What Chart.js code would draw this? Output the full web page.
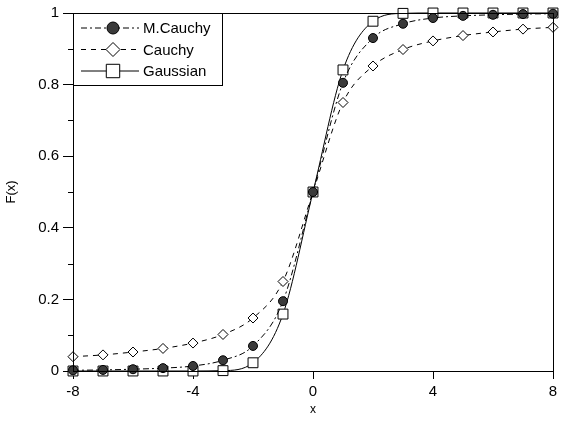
<!DOCTYPE html>
<html lang="en">
<head>
  <meta charset="UTF-8">
  <title>F(x)</title>
  <style>
    body { margin: 0; background: #fff; }
    #wrap { width: 565px; height: 421px; }
  </style>
</head>
<body>
  <div id="wrap"><canvas id="cdfChart"></canvas></div>

  <script src="https://cdn.jsdelivr.net/npm/chart.js@4.4.0/dist/chart.umd.min.js"></script>
  <script>
    // values, one marker per integer x
    const xs = [-8, -7, -6, -5, -4, -3, -2, -1, 0, 1, 2, 3, 4, 5, 6, 7, 8];
    const mCauchy = [0.002, 0.003, 0.005, 0.008, 0.014, 0.03, 0.07, 0.195, 0.5, 0.805, 0.93, 0.97, 0.986, 0.992, 0.995, 0.997, 0.998];
    const cauchy = [0.04, 0.045, 0.053, 0.063, 0.078, 0.102, 0.148, 0.25, 0.5, 0.75, 0.852, 0.898, 0.922, 0.937, 0.947, 0.955, 0.96];
    const gaussian = [0, 0, 0, 0, 0, 0.001, 0.023, 0.159, 0.5, 0.841, 0.977, 0.999, 1, 1, 1, 1, 1];
    const yMinorTicks = [0.1, 0.3, 0.5, 0.7, 0.9];

    const FONT = "'Liberation Sans', Arial, sans-serif";
    const toPoints = arr => xs.map((x, i) => ({ x: x, y: arr[i] }));

    // frame, minor ticks and the boxed legend in the top-left corner
    const extras = {
      id: 'extras',
      afterDraw(chart) {
        const { ctx, chartArea: a, scales } = chart;
        ctx.save();
        ctx.strokeStyle = '#000';
        ctx.lineWidth = 1;
        ctx.strokeRect(a.left + 0.5, a.top + 0.5, a.right - a.left, a.bottom - a.top);

        ctx.beginPath();
        yMinorTicks.forEach(v => {
          const py = Math.round(scales.y.getPixelForValue(v)) + 0.5;
          ctx.moveTo(a.left - 5, py);
          ctx.lineTo(a.left, py);
        });
        ctx.stroke();

        // legend
        const bx = a.left, by = a.top, bw = 149, bh = 72;
        ctx.fillStyle = '#fff';
        ctx.fillRect(bx + 1, by + 1, bw - 1, bh - 1);
        ctx.strokeRect(bx + 0.5, by + 0.5, bw, bh);
        chart.data.datasets.forEach((ds, i) => {
          const ly = by + 15 + i * 21.5;
          ctx.setLineDash(ds.borderDash || []);
          ctx.beginPath();
          ctx.moveTo(bx + 8, ly);
          ctx.lineTo(bx + 66, ly);
          ctx.stroke();
          ctx.setLineDash([]);
          ctx.fillStyle = ds.pointBackgroundColor;
          ctx.strokeStyle = '#000';
          ctx.lineWidth = 1;
          Chart.helpers.drawPoint(ctx, {
            pointStyle: ds.pointStyle,
            radius: ds.legendRadius,
            rotation: 0,
            borderWidth: 1
          }, bx + 40, ly);
          ctx.fillStyle = '#000';
          ctx.font = '15px ' + FONT;
          ctx.textBaseline = 'middle';
          ctx.fillText(ds.label, bx + 70, ly + 1);
        });
        ctx.restore();
      }
    };

    new Chart(document.getElementById('cdfChart'), {
      type: 'line',
      data: {
        datasets: [
          {
            label: 'M.Cauchy',
            data: toPoints(mCauchy),
            borderColor: '#000',
            borderWidth: 1,
            borderDash: [6, 3, 2, 3],
            pointStyle: 'circle',
            pointRadius: 4.5,
            legendRadius: 6,
            pointBackgroundColor: '#3a3a3a',
            pointBorderColor: '#000',
            cubicInterpolationMode: 'monotone',
            clip: false
          },
          {
            label: 'Cauchy',
            data: toPoints(cauchy),
            borderColor: '#000',
            borderWidth: 1,
            borderDash: [5, 5],
            pointStyle: 'rectRot',
            pointRadius: 5,
            legendRadius: 7,
            pointBackgroundColor: '#fff',
            pointBorderColor: '#000',
            cubicInterpolationMode: 'monotone',
            clip: false
          },
          {
            label: 'Gaussian',
            data: toPoints(gaussian),
            borderColor: '#000',
            borderWidth: 1,
            pointStyle: 'rect',
            pointRadius: 7,
            legendRadius: 9.5,
            pointBackgroundColor: '#fff',
            pointBorderColor: '#000',
            cubicInterpolationMode: 'monotone',
            clip: false
          }
        ]
      },
      options: {
        responsive: true,
        maintainAspectRatio: false,
        animation: false,
        layout: { padding: { top: 10, right: 12, left: 0, bottom: 0 } },
        plugins: {
          legend: { display: false },
          tooltip: { enabled: false }
        },
        scales: {
          x: {
            type: 'linear',
            min: -8,
            max: 8,
            afterFit: s => { s.height = 50; },
            border: { color: '#000', width: 1 },
            grid: { drawOnChartArea: false, tickLength: 8, color: '#000' },
            ticks: { stepSize: 4, color: '#000', padding: 4, maxRotation: 0, font: { family: FONT, size: 15 } },
            title: { display: true, text: 'x', color: '#000', font: { family: FONT, size: 12 } }
          },
          y: {
            min: 0,
            max: 1,
            afterFit: s => { s.width = 73; },
            border: { color: '#000', width: 1 },
            grid: { drawOnChartArea: false, tickLength: 10, color: '#000' },
            ticks: {
              stepSize: 0.2,
              color: '#000',
              padding: 4,
              font: { family: FONT, size: 15 },
              callback: v => String(+v.toFixed(1))
            },
            title: { display: true, text: 'F(x)', color: '#000', font: { family: FONT, size: 13 } }
          }
        }
      },
      plugins: [extras]
    });
  </script>
</body>
</html>
